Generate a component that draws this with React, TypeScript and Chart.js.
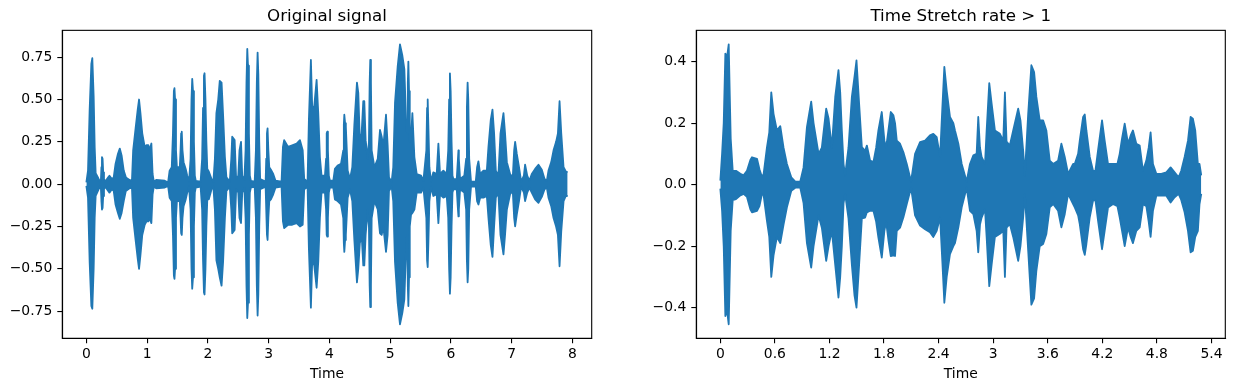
import React, { useEffect, useRef } from "react";
import { Chart, registerables } from "chart.js";

Chart.register(...registerables);

const FONT = '"DejaVu Sans", sans-serif';
const BLUE = "#1f77b4";

// [time (s), upper envelope, lower envelope]
const originalSignal: [number, number, number][] = [
  [0.0, 0.01, -0.01], [0.027, 0.08, -0.08], [0.054, 0.44, -0.46], [0.082, 0.71, -0.72], [0.098, 0.744, -0.736],
  [0.12, 0.52, -0.5], [0.137, 0.22, -0.2], [0.153, 0.065, -0.07], [0.19, 0.04, -0.04], [0.22, 0.015, -0.015],
  [0.24, 0.03, -0.03], [0.248, 0.1, -0.1], [0.257, 0.16, -0.15], [0.267, 0.15, -0.14], [0.277, 0.07, -0.07],
  [0.29, 0.03, -0.03], [0.31, 0.015, -0.015], [0.36, 0.04, -0.04],
  [0.38, 0.05, -0.05], [0.42, 0.03, -0.03], [0.45, 0.04, -0.04], [0.48, 0.12, -0.12], [0.52, 0.18, -0.17],
  [0.55, 0.21, -0.205], [0.58, 0.17, -0.17], [0.615, 0.08, -0.1], [0.65, 0.04, -0.04], [0.71, 0.025, -0.025],
  [0.75, 0.02, -0.02], [0.77, 0.2, -0.2], [0.81, 0.33, -0.33], [0.845, 0.44, -0.44], [0.867, 0.5, -0.5],
  [0.89, 0.42, -0.42], [0.92, 0.3, -0.3], [0.96, 0.22, -0.24], [0.99, 0.23, -0.22], [1.02, 0.23, -0.22],
  [1.04, 0.2, -0.2], [1.07, 0.24, -0.23], [1.09, 0.06, -0.06], [1.11, 0.015, -0.015], [1.15, 0.025, -0.025],
  [1.29, 0.02, -0.02], [1.345, 0.01, -0.01], [1.37, 0.08, -0.08], [1.405, 0.1, -0.1],
  [1.425, 0.3, -0.3], [1.44, 0.55, -0.54], [1.45, 0.567, -0.56], [1.46, 0.5, -0.5], [1.475, 0.2, -0.2],
  [1.49, 0.1, -0.1], [1.537, 0.1, -0.1], [1.55, 0.2, -0.2], [1.56, 0.3, -0.29], [1.57, 0.31, -0.3],
  [1.582, 0.2, -0.2], [1.6, 0.13, -0.13], [1.635, 0.09, -0.09], [1.66, 0.05, -0.05], [1.69, 0.015, -0.015],
  [1.715, 0.15, -0.15], [1.73, 0.5, -0.5], [1.742, 0.622, -0.618], [1.755, 0.55, -0.55], [1.77, 0.25, -0.25],
  [1.785, 0.05, -0.05], [1.8, 0.02, -0.02], [1.88, 0.015, -0.015],
  [1.905, 0.15, -0.15], [1.92, 0.45, -0.45], [1.935, 0.64, -0.64], [1.945, 0.655, -0.652], [1.96, 0.5, -0.5],
  [1.975, 0.25, -0.25], [1.99, 0.09, -0.09], [2.015, 0.075, -0.09], [2.06, 0.03, -0.03], [2.09, 0.015, -0.015],
  [2.115, 0.15, -0.15], [2.14, 0.42, -0.45], [2.17, 0.5, -0.5], [2.195, 0.61, -0.55], [2.225, 0.6, -0.6],
  [2.25, 0.41, -0.46], [2.28, 0.16, -0.2], [2.305, 0.04, -0.04], [2.36, 0.015, -0.015], [2.385, 0.15, -0.15],
  [2.4, 0.28, -0.29], [2.44, 0.26, -0.27], [2.465, 0.03, -0.03], [2.5, 0.05, -0.05], [2.52, 0.2, -0.2],
  [2.545, 0.25, -0.23], [2.565, 0.05, -0.05], [2.6, 0.025, -0.025],
  [2.62, 0.2, -0.2], [2.635, 0.6, -0.6], [2.648, 0.799, -0.791], [2.66, 0.7, -0.7], [2.675, 0.3, -0.3],
  [2.69, 0.05, -0.05], [2.707, 0.02, -0.02], [2.77, 0.015, -0.015],
  [2.79, 0.2, -0.2], [2.805, 0.6, -0.6], [2.818, 0.777, -0.776], [2.83, 0.65, -0.65], [2.845, 0.25, -0.25],
  [2.86, 0.03, -0.03], [2.95, 0.015, -0.015],
  [2.96, 0.15, -0.15], [2.972, 0.3, -0.3], [2.982, 0.33, -0.33], [2.995, 0.2, -0.2], [3.01, 0.1, -0.1],
  [3.037, 0.085, -0.09], [3.075, 0.06, -0.06], [3.113, 0.02, -0.02], [3.212, 0.015, -0.015],
  [3.235, 0.22, -0.22], [3.255, 0.26, -0.26], [3.32, 0.22, -0.24], [3.387, 0.23, -0.24], [3.46, 0.24, -0.23],
  [3.515, 0.26, -0.25], [3.56, 0.2, -0.24], [3.585, 0.03, -0.03], [3.64, 0.015, -0.015], [3.662, 0.38, -0.38],
  [3.695, 0.734, -0.73], [3.717, 0.45, -0.45], [3.75, 0.46, -0.48], [3.789, 0.616, -0.612], [3.816, 0.42, -0.46],
  [3.843, 0.16, -0.2], [3.87, 0.05, -0.05], [3.926, 0.05, -0.05],
  [3.945, 0.15, -0.15], [3.955, 0.3, -0.3], [3.965, 0.31, -0.31], [3.975, 0.2, -0.2], [3.99, 0.05, -0.05],
  [4.008, 0.02, -0.02], [4.063, 0.02, -0.02], [4.09, 0.09, -0.09], [4.135, 0.11, -0.1],
  [4.19, 0.12, -0.12], [4.228, 0.2, -0.2], [4.237, 0.35, -0.35], [4.245, 0.41, -0.4], [4.258, 0.36, -0.33],
  [4.27, 0.34, -0.3], [4.3, 0.08, -0.08],
  [4.338, 0.03, -0.03], [4.376, 0.1, -0.1], [4.41, 0.35, -0.33], [4.453, 0.6, -0.58], [4.475, 0.54, -0.5],
  [4.5, 0.26, -0.35], [4.53, 0.3, -0.3], [4.557, 0.49, -0.48], [4.574, 0.49, -0.48], [4.596, 0.26, -0.3],
  [4.63, 0.15, -0.15], [4.65, 0.25, -0.25], [4.662, 0.6, -0.6], [4.672, 0.734, -0.726], [4.683, 0.6, -0.6],
  [4.695, 0.2, -0.2], [4.74, 0.1, -0.1],
  [4.795, 0.15, -0.15], [4.832, 0.32, -0.29], [4.86, 0.28, -0.3], [4.887, 0.22, -0.25], [4.931, 0.41, -0.4],
  [4.958, 0.23, -0.3], [4.98, 0.04, -0.04], [5.024, 0.015, -0.015], [5.05, 0.1, -0.1], [5.079, 0.48, -0.46],
  [5.123, 0.695, -0.7], [5.161, 0.826, -0.828], [5.2, 0.76, -0.76], [5.233, 0.68, -0.68], [5.266, 0.32, -0.33],
  [5.28, 0.3, -0.3], [5.29, 0.6, -0.6], [5.299, 0.724, -0.72], [5.31, 0.55, -0.55], [5.322, 0.25, -0.25],
  [5.343, 0.28, -0.18], [5.365, 0.42, -0.17],
  [5.398, 0.16, -0.15], [5.436, 0.06, -0.05], [5.508, 0.05, -0.05], [5.546, 0.02, -0.02],
  [5.595, 0.2, -0.2], [5.607, 0.45, -0.45], [5.617, 0.5, -0.49], [5.628, 0.35, -0.35], [5.645, 0.1, -0.1],
  [5.672, 0.015, -0.015], [5.71, 0.07, -0.07], [5.765, 0.06, -0.06],
  [5.793, 0.24, -0.23], [5.82, 0.06, -0.06], [5.875, 0.08, -0.08], [5.93, 0.06, -0.07],
  [5.955, 0.2, -0.2], [5.97, 0.5, -0.5], [5.983, 0.655, -0.647], [5.995, 0.55, -0.55], [6.01, 0.25, -0.25],
  [6.025, 0.05, -0.05], [6.04, 0.03, -0.03], [6.095, 0.03, -0.03],
  [6.115, 0.15, -0.15], [6.123, 0.2, -0.19], [6.13, 0.15, -0.15],
  [6.15, 0.03, -0.03], [6.22, 0.05, -0.05],
  [6.25, 0.15, -0.15], [6.262, 0.45, -0.45], [6.274, 0.6, -0.58], [6.285, 0.5, -0.5], [6.3, 0.15, -0.15],
  [6.33, 0.015, -0.015], [6.408, 0.015, -0.015], [6.43, 0.1, -0.1], [6.452, 0.135, -0.12], [6.48, 0.06, -0.08],
  [6.535, 0.08, -0.08], [6.59, 0.08, -0.07], [6.617, 0.22, -0.2], [6.655, 0.38, -0.36], [6.683, 0.44, -0.43],
  [6.71, 0.3, -0.25], [6.738, 0.08, -0.08], [6.78, 0.05, -0.05], [6.815, 0.3, -0.3], [6.864, 0.42, -0.415],
  [6.89, 0.3, -0.3], [6.92, 0.13, -0.15], [6.973, 0.06, -0.06], [7.017, 0.04, -0.04], [7.04, 0.2, -0.2],
  [7.056, 0.25, -0.25], [7.083, 0.18, -0.18], [7.12, 0.1, -0.1], [7.155, 0.015, -0.015], [7.2, 0.05, -0.05],
  [7.22, 0.115, -0.1], [7.255, 0.05, -0.05], [7.29, 0.02, -0.02], [7.33, 0.06, -0.05], [7.385, 0.09, -0.09],
  [7.44, 0.115, -0.11], [7.495, 0.085, -0.075], [7.54, 0.03, -0.03], [7.578, 0.02, -0.02], [7.605, 0.08, -0.08],
  [7.65, 0.13, -0.13], [7.688, 0.2, -0.2], [7.73, 0.25, -0.25], [7.76, 0.3, -0.3], [7.787, 0.49, -0.485],
  [7.815, 0.3, -0.28], [7.853, 0.1, -0.1], [7.89, 0.075, -0.07], [7.92, 0.07, -0.07],
];

const stretchedSignal: [number, number, number][] = [
  [0.0, 0.013, -0.013], [0.019, 0.1, -0.085], [0.037, 0.2, -0.2], [0.055, 0.426, -0.427], [0.074, 0.415, -0.41],
  [0.092, 0.456, -0.454], [0.103, 0.3, -0.3], [0.114, 0.15, -0.15], [0.136, 0.045, -0.05], [0.172, 0.045, -0.047],
  [0.22, 0.035, -0.035], [0.256, 0.03, -0.03], [0.293, 0.045, -0.04], [0.33, 0.08, -0.08], [0.348, 0.089, -0.09],
  [0.403, 0.084, -0.085], [0.43, 0.05, -0.07], [0.458, 0.025, -0.03], [0.476, 0.035, -0.035], [0.512, 0.12, -0.117],
  [0.538, 0.17, -0.17], [0.56, 0.3, -0.3], [0.585, 0.23, -0.23], [0.622, 0.176, -0.17], [0.659, 0.19, -0.19],
  [0.695, 0.12, -0.13], [0.732, 0.067, -0.074], [0.78, 0.024, -0.02], [0.824, 0.01, -0.01], [0.879, 0.01, -0.01],
  [0.915, 0.056, -0.06], [0.952, 0.187, -0.19], [0.999, 0.27, -0.27], [1.025, 0.2, -0.2], [1.08, 0.1, -0.1],
  [1.116, 0.12, -0.14], [1.164, 0.247, -0.248], [1.19, 0.215, -0.2], [1.226, 0.12, -0.15], [1.263, 0.285, -0.26],
  [1.299, 0.372, -0.367], [1.318, 0.3, -0.3], [1.336, 0.176, -0.2], [1.355, 0.067, -0.06], [1.372, 0.03, -0.03],
  [1.409, 0.12, -0.11], [1.446, 0.285, -0.26], [1.475, 0.35, -0.36], [1.497, 0.404, -0.4], [1.526, 0.263, -0.26],
  [1.556, 0.122, -0.11], [1.592, 0.11, -0.107], [1.611, 0.127, -0.09], [1.647, 0.078, -0.085], [1.683, 0.073, -0.085],
  [1.713, 0.12, -0.12], [1.738, 0.176, -0.172], [1.775, 0.236, -0.237], [1.804, 0.143, -0.15], [1.823, 0.12, -0.12],
  [1.848, 0.176, -0.18], [1.874, 0.236, -0.232], [1.903, 0.225, -0.23], [1.921, 0.2, -0.232], [1.94, 0.143, -0.15],
  [1.976, 0.133, -0.14], [2.013, 0.105, -0.106], [2.05, 0.067, -0.063], [2.097, 0.01, -0.01], [2.141, 0.1, -0.1],
  [2.196, 0.138, -0.133], [2.251, 0.143, -0.145], [2.305, 0.16, -0.155], [2.342, 0.165, -0.17], [2.379, 0.154, -0.15],
  [2.416, 0.09, -0.106], [2.441, 0.25, -0.25], [2.463, 0.383, -0.384], [2.489, 0.306, -0.3], [2.525, 0.22, -0.226],
  [2.562, 0.2, -0.2], [2.58, 0.176, -0.19], [2.617, 0.133, -0.139], [2.654, 0.067, -0.074], [2.708, 0.01, -0.01],
  [2.745, 0.067, -0.085], [2.782, 0.095, -0.096], [2.818, 0.1, -0.15], [2.836, 0.22, -0.22], [2.855, 0.12, -0.13],
  [2.873, 0.09, -0.107], [2.91, 0.067, -0.08], [2.928, 0.176, -0.17], [2.957, 0.33, -0.33], [2.983, 0.263, -0.26],
  [3.019, 0.176, -0.17], [3.074, 0.165, -0.16], [3.111, 0.143, -0.15], [3.129, 0.3, -0.3], [3.147, 0.14, -0.14],
  [3.183, 0.127, -0.128], [3.22, 0.176, -0.17], [3.275, 0.247, -0.248], [3.3, 0.209, -0.2], [3.33, 0.11, -0.106],
  [3.348, 0.03, -0.03], [3.385, 0.23, -0.215], [3.42, 0.388, -0.39], [3.45, 0.366, -0.37], [3.475, 0.285, -0.28],
  [3.512, 0.209, -0.2], [3.549, 0.209, -0.193], [3.585, 0.176, -0.16], [3.622, 0.078, -0.074], [3.66, 0.067, -0.063],
  [3.714, 0.078, -0.085], [3.75, 0.133, -0.139], [3.787, 0.09, -0.096], [3.824, 0.035, -0.03], [3.879, 0.067, -0.063],
  [3.897, 0.067, -0.074], [3.934, 0.1, -0.1], [3.952, 0.143, -0.128], [3.989, 0.22, -0.21], [4.007, 0.228, -0.228],
  [4.025, 0.176, -0.193], [4.062, 0.09, -0.106], [4.098, 0.045, -0.052], [4.124, 0.045, -0.05], [4.153, 0.111, -0.117],
  [4.197, 0.209, -0.21], [4.226, 0.143, -0.15], [4.263, 0.067, -0.074], [4.318, 0.067, -0.063], [4.366, 0.067, -0.07],
  [4.391, 0.1, -0.106], [4.417, 0.15, -0.15], [4.446, 0.198, -0.2], [4.483, 0.133, -0.139], [4.512, 0.16, -0.17],
  [4.537, 0.176, -0.19], [4.574, 0.133, -0.15], [4.611, 0.127, -0.139], [4.647, 0.045, -0.063], [4.684, 0.078, -0.07],
  [4.71, 0.12, -0.12], [4.731, 0.17, -0.17], [4.757, 0.067, -0.085], [4.794, 0.035, -0.036], [4.849, 0.035, -0.036],
  [4.904, 0.04, -0.036], [4.951, 0.056, -0.058], [4.995, 0.04, -0.041], [5.039, 0.024, -0.03], [5.068, 0.045, -0.05],
  [5.105, 0.09, -0.09], [5.142, 0.143, -0.15], [5.171, 0.22, -0.22], [5.196, 0.214, -0.215], [5.222, 0.176, -0.17],
  [5.251, 0.067, -0.15], [5.269, 0.067, -0.063], [5.288, 0.03, -0.03],
];

const originalXTicks = [0, 1, 2, 3, 4, 5, 6, 7, 8];
const originalXLabels = ["0", "1", "2", "3", "4", "5", "6", "7", "8"];
const originalYTicks = [-0.75, -0.5, -0.25, 0, 0.25, 0.5, 0.75];
const originalYLabels = ["\u22120.75", "\u22120.50", "\u22120.25", "0.00", "0.25", "0.50", "0.75"];

const stretchedXTicks = [0, 0.6, 1.2, 1.8, 2.4, 3, 3.6, 4.2, 4.8, 5.4];
const stretchedXLabels = ["0", "0.6", "1.2", "1.8", "2.4", "3", "3.6", "4.2", "4.8", "5.4"];
const stretchedYTicks = [-0.4, -0.2, 0, 0.2, 0.4];
const stretchedYLabels = ["\u22120.4", "\u22120.2", "0.0", "0.2", "0.4"];

const framePlugin = {
  id: "frame",
  afterDatasetsDraw(chart: any) {
    const { ctx, chartArea } = chart;
    const { left, top, right, bottom } = chartArea;
    ctx.save();
    ctx.strokeStyle = "#000";
    ctx.lineWidth = 1.1;
    ctx.strokeRect(left, top, right - left, bottom - top);
    ctx.restore();
  },
};

interface PanelProps {
  data: [number, number, number][];
  xTicks: number[];
  xLabels: string[];
  yTicks: number[];
  yLabels: string[];
  title: string;
  yAxisWidth: number;
  rightPad: number;
}

function makeConfig(p: PanelProps): any {
  const xs = p.data.map((d) => d[0]);
  const ys = p.data.flatMap((d) => [d[1], d[2]]);
  const xmin = Math.min(...xs);
  const xmax = Math.max(...xs);
  const ymin = Math.min(...ys);
  const ymax = Math.max(...ys);
  const xm = (xmax - xmin) * 0.05;
  const ym = (ymax - ymin) * 0.05;
  const tickFont = { family: FONT, size: 13.9, weight: "normal" as const };
  const gridOpts = {
    display: true,
    drawOnChartArea: false,
    drawTicks: true,
    tickLength: 5,
    color: "#000",
    lineWidth: 1.1,
  };
  const envelope = (idx: 1 | 2, fill: any) => ({
    data: p.data.map((d) => ({ x: d[0], y: d[idx] })),
    borderColor: BLUE,
    backgroundColor: BLUE,
    borderWidth: 1.8,
    borderJoinStyle: "round",
    pointRadius: 0,
    fill,
    tension: 0,
  });
  return {
    type: "line",
    data: { datasets: [envelope(1, false), envelope(2, "-1")] },
    options: {
      responsive: false,
      animation: false,
      events: [],
      layout: { padding: { left: 0, right: p.rightPad, top: 0, bottom: 0 } },
      plugins: {
        legend: { display: false },
        tooltip: { enabled: false },
        title: {
          display: true,
          text: p.title,
          color: "#000",
          fullSize: false,
          font: { family: FONT, size: 16.7, weight: "normal" },
          padding: { top: 6.3, bottom: 4 },
        },
      },
      scales: {
        x: {
          type: "linear",
          min: xmin - xm,
          max: xmax + xm,
          afterBuildTicks: (s: any) => {
            s.ticks = p.xTicks.map((v) => ({ value: v }));
          },
          afterFit: (s: any) => {
            s.height = 391 - 338.3;
          },
          ticks: {
            callback: (_v: any, i: number) => p.xLabels[i],
            color: "#000",
            font: tickFont,
            padding: 3,
            maxRotation: 0,
            autoSkip: false,
          },
          grid: gridOpts,
          border: { display: true, color: "#000", width: 1.1 },
          title: {
            display: true,
            text: "Time",
            color: "#000",
            font: tickFont,
            padding: { top: 0, bottom: 8.7 },
          },
        },
        y: {
          type: "linear",
          min: ymin - ym,
          max: ymax + ym,
          afterBuildTicks: (s: any) => {
            s.ticks = p.yTicks.map((v) => ({ value: v }));
          },
          afterFit: (s: any) => {
            s.width = p.yAxisWidth;
          },
          ticks: {
            callback: (_v: any, i: number) => p.yLabels[i],
            color: "#000",
            font: tickFont,
            padding: 5,
            autoSkip: false,
          },
          grid: gridOpts,
          border: { display: true, color: "#000", width: 1.1 },
        },
      },
    },
    plugins: [framePlugin],
  };
}

function Panel(props: PanelProps & { left: number }) {
  const ref = useRef<HTMLCanvasElement | null>(null);
  useEffect(() => {
    if (!ref.current) return;
    const chart = new Chart(ref.current, makeConfig(props));
    return () => chart.destroy();
  }, []);
  return (
    <canvas
      ref={ref}
      width={617}
      height={391}
      style={{ position: "absolute", left: props.left, top: 0, width: 617, height: 391 }}
    />
  );
}

export default function App() {
  return (
    <div
      style={{
        position: "absolute",
        left: 0,
        top: 0,
        width: 1234,
        height: 391,
        background: "#fff",
        overflow: "hidden",
      }}
    >
      <Panel
        left={0}
        data={originalSignal}
        xTicks={originalXTicks}
        xLabels={originalXLabels}
        yTicks={originalYTicks}
        yLabels={originalYLabels}
        title="Original signal"
        yAxisWidth={62.3}
        rightPad={25.3}
      />
      <Panel
        left={617}
        data={stretchedSignal}
        xTicks={stretchedXTicks}
        xLabels={stretchedXLabels}
        yTicks={stretchedYTicks}
        yLabels={stretchedYLabels}
        title="Time Stretch rate > 1"
        yAxisWidth={79.3}
        rightPad={8.7}
      />
    </div>
  );
}
